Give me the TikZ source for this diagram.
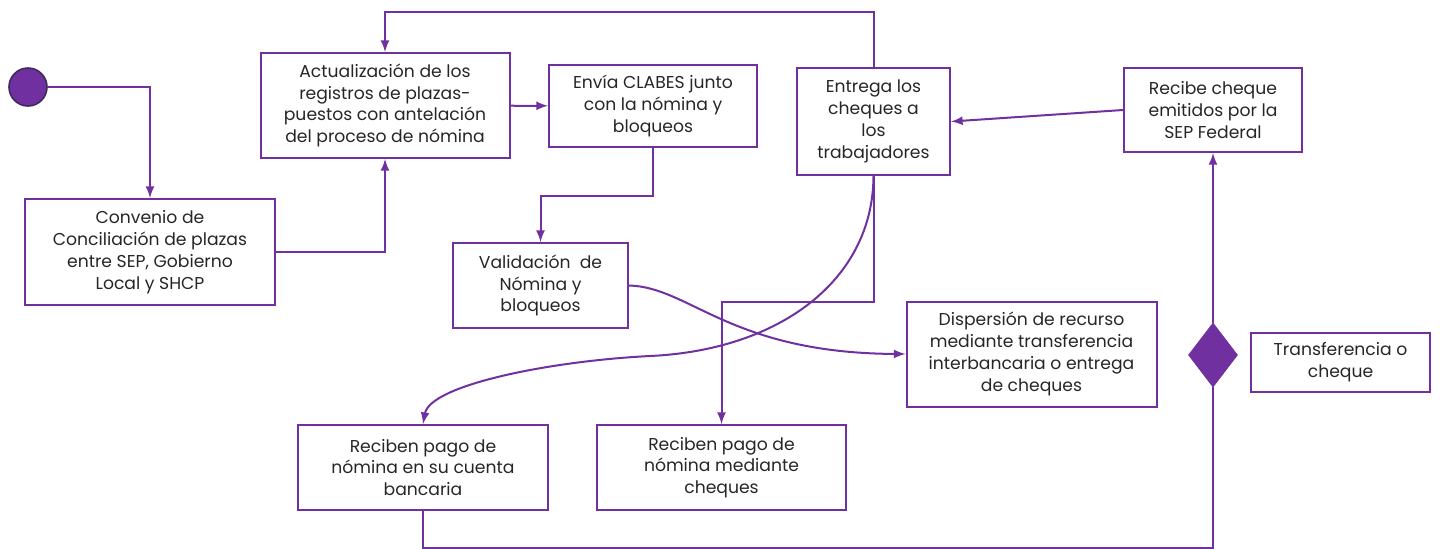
\documentclass[tikz,border=0pt]{standalone}
\usepackage{fontspec}
\setmainfont{Poppins}
\usetikzlibrary{shapes.geometric}
\definecolor{lila}{HTML}{7030A0}
\definecolor{lilaosc}{HTML}{3F2A5C}

\begin{document}
\begin{tikzpicture}[x=0.5pt,y=-0.5pt,
		caja/.style={draw=lila,line width=1pt,align=center,inner sep=0pt,
			text=black!85,font=\fontsize{8.6}{10.9}\selectfont},
		inicio/.style={circle,fill=lila,draw=lilaosc,line width=0.8pt,minimum size=19pt,inner sep=0pt},
		decide/.style={diamond,fill=lila,draw=lila,minimum width=24.5pt,minimum height=32pt,inner sep=0pt},
		linea/.style={draw=lila,line width=1pt},
		flecha/.style={linea,-latex}]
		\useasboundingbox (0,0) rectangle (1440,548);
		\path
			(  28,  87) node[inicio] (ini) {}
			( 150, 252) node[caja,minimum width=125pt,minimum height=53pt] (convenio)
				{Convenio de\\Conciliación de plazas\\entre SEP, Gobierno\\Local y SHCP}
			( 385, 105.5) node[caja,minimum width=124.5pt,minimum height=52.5pt] (actualiza)
				{Actualización de los\\registros de plazas-\\puestos con antelación\\del proceso de nómina}
			( 653, 106) node[caja,minimum width=104pt,minimum height=41pt] (envia)
				{Envía CLABES junto\\con la nómina y\\bloqueos}
			( 540.5, 285.5) node[caja,minimum width=87.5pt,minimum height=42.5pt] (valida)
				{Validación~ de\\Nómina y\\bloqueos}
			( 873.5, 121.5) node[caja,minimum width=76.5pt,minimum height=53.5pt] (entrega)
				{Entrega los\\cheques a\\los\\trabajadores}
			(1213, 110) node[caja,minimum width=89pt,minimum height=42pt] (recibe)
				{Recibe cheque\\emitidos por la\\SEP Federal}
			(1213, 355) node[decide] (decision) {}
			(1340.5, 362.5) node[caja,minimum width=89.5pt,minimum height=29.5pt] (tipo)
				{Transferencia o\\cheque}
			(1031.5, 354) node[caja,minimum width=125pt,minimum height=52.5pt] (dispersa)
				{Dispersión de recurso\\mediante transferencia\\interbancaria o entrega\\de cheques}
			( 423, 467.5) node[caja,minimum width=125pt,minimum height=42.5pt] (pagocta)
				{Reciben pago de\\nómina en su cuenta\\bancaria}
			( 721.5, 467.5) node[caja,minimum width=124.5pt,minimum height=42.5pt] (pagocheq)
				{Reciben pago de\\nómina mediante\\cheques}
		;
		\draw[flecha] (ini)            -| (convenio);
		\draw[flecha] (convenio)       -| (actualiza);
		\draw[flecha] (actualiza)      -- (envia);
		\draw[flecha] (envia.south)    -- ++(0,48) -| (valida.north);
		\draw[flecha] (entrega.north)  -- ++(0,-55) -| (actualiza.north);
		\draw[flecha] (recibe.west)    -- (entrega.east);
		\draw[flecha] (decision)       -- (recibe);
		\draw[flecha] (valida.east)    .. controls (690,287) and (730,353) .. (dispersa.west);
		\draw[flecha] (entrega.south)  -- ++(0,126) -| (pagocheq.north);
		\draw[flecha] (entrega.south)  .. controls (873,280) and (780,350) .. (650,356)
			.. controls (550,361) and (430,385) .. (pagocta.north);
		\draw[linea]  (pagocta.south)  -- ++(0,37) -| (decision.south);
	\end{tikzpicture}
\end{document}
